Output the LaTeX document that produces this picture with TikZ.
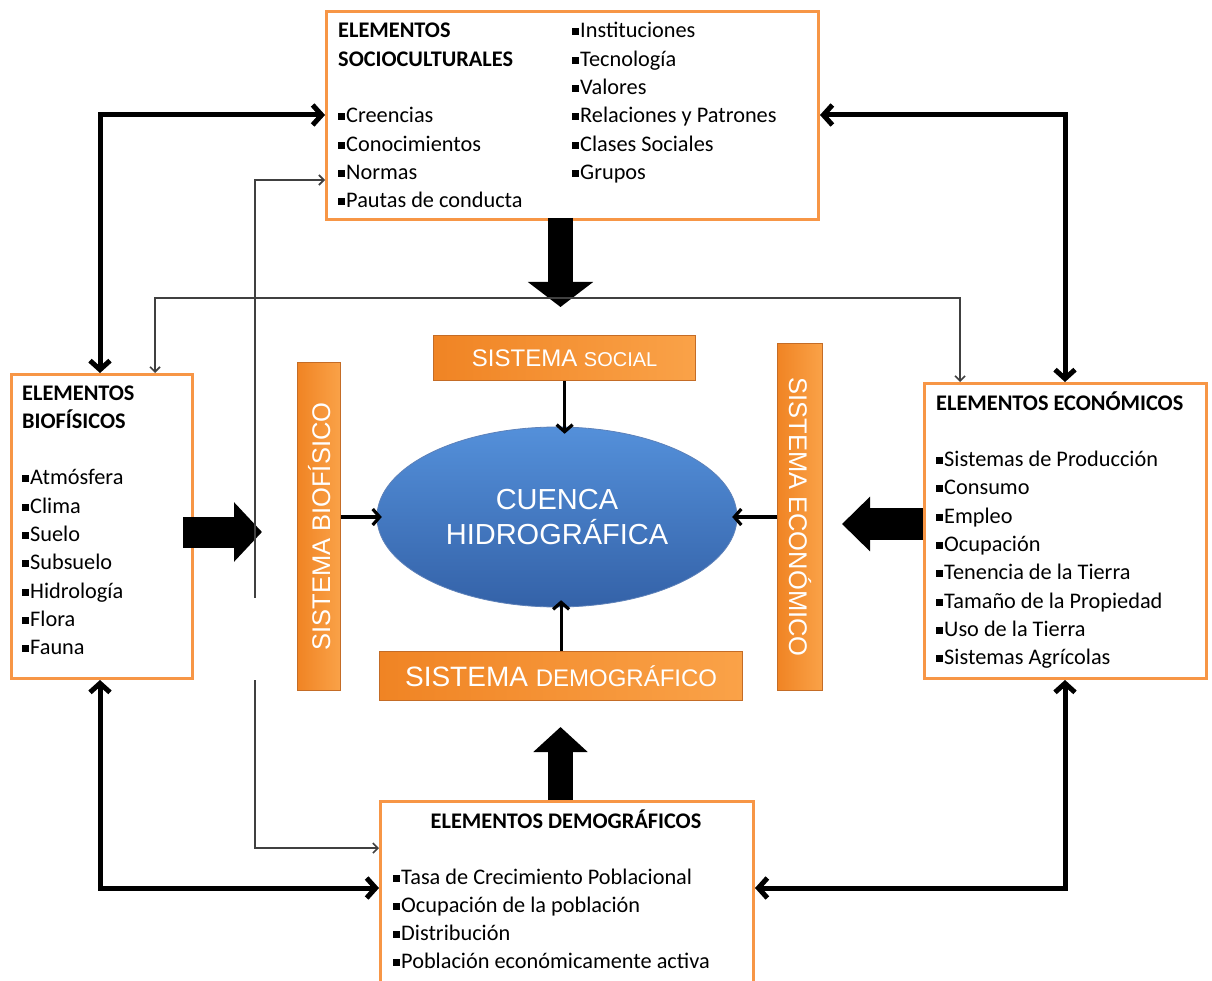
\documentclass[tikz,border=0pt]{standalone}
\usepackage{fontspec}
\setmainfont{Carlito}
\newfontfamily\arialf{Liberation Sans}
\usetikzlibrary{arrows.meta,calc,shapes.geometric}
\definecolor{boxorange}{RGB}{247,150,70}
\definecolor{barorangeA}{RGB}{240,132,36}
\definecolor{barorangeB}{RGB}{250,162,72}
\definecolor{bardark}{RGB}{196,108,38}
\definecolor{thingray}{RGB}{64,64,64}
\definecolor{elltop}{RGB}{84,144,218}
\definecolor{ellbot}{RGB}{52,98,168}
\newcommand{\bul}{\rule[2.5pt]{7pt}{7pt}\hspace{1pt}}
\begin{document}
\begin{tikzpicture}[x=1pt,y=-1pt,
  ebox/.style={draw=boxorange,line width=3pt,fill=white,inner sep=0pt,anchor=north west},
  item/.style={anchor=base west,inner sep=0pt,font=\fontsize{22.3}{24}\selectfont},
  head/.style={anchor=base west,inner sep=0pt,font=\bfseries\fontsize{22.3}{24}\selectfont},
  bar/.style={draw=bardark,line width=1.2pt,left color=barorangeA,right color=barorangeB,inner sep=0pt,text=white,anchor=north west},
  thickarr/.style={line width=5pt,{Straight Barb[length=9pt,width=20pt]}-{Straight Barb[length=9pt,width=20pt]}},
  thinarr/.style={draw=thingray,line width=1.6pt,{Straight Barb[length=5pt,width=10pt]}-{Straight Barb[length=5pt,width=10pt]}},
  thinone/.style={draw=thingray,line width=1.6pt},
  smallarr/.style={line width=3.2pt,-{Straight Barb[length=7pt,width=16pt]}}
]
\useasboundingbox (0,0) rectangle (1212,981);
\clip (0,0) rectangle (1212,981);
\fill[white] (0,0) rectangle (1212,981);

% element boxes
\node[ebox,minimum width=492pt,minimum height=208pt] (soc) at (325,10) {};
\node[ebox,minimum width=181pt,minimum height=304pt] (bio) at (10,373) {};
\node[ebox,minimum width=282pt,minimum height=295pt] (eco) at (923,382) {};
\node[ebox,minimum width=373pt,minimum height=184pt] (dem) at (379,800) {};

% texts: sociocultural
\node[head] (socH1) at (338,38) {ELEMENTOS};
\node[head] (socH2) at (338,66.3) {SOCIOCULTURALES};
\foreach \t [count=\i from 3] in {Creencias,Conocimientos,Normas,Pautas de conducta}
  \node[item] (socL\i) at (338,{38+\i*28.3}) {\bul\t};
\foreach \t [count=\i from 0] in {Instituciones,Tecnología,Valores,Relaciones y Patrones,Clases Sociales,Grupos}
  \node[item] (socR\i) at (572,{38+\i*28.3}) {\bul\t};

% biofisicos
\node[head] (bioH1) at (22,400) {ELEMENTOS};
\node[head] (bioH2) at (22,428.3) {BIOFÍSICOS};
\foreach \t [count=\i from 3] in {Atmósfera,Clima,Suelo,Subsuelo,Hidrología,Flora,Fauna}
  \node[item] (bioL\i) at (22,{400+\i*28.3}) {\bul\t};

% economicos
\node[head] (ecoH) at (936,410) {ELEMENTOS ECONÓMICOS};
\foreach \t [count=\i from 2] in {Sistemas de Producción,Consumo,Empleo,Ocupación,Tenencia de la Tierra,Tamaño de la Propiedad,Uso de la Tierra,Sistemas Agrícolas}
  \node[item] (ecoL\i) at (936,{410+\i*28.3}) {\bul\t};

% demograficos
\node[head,anchor=base] (demH) at (566,828) {ELEMENTOS DEMOGRÁFICOS};
\foreach \t [count=\i from 0] in {Tasa de Crecimiento Poblacional,Ocupación de la población,Distribución,Población económicamente activa}
  \node[item] (demL\i) at (393,{884+\i*28.3}) {\bul\t};

% central ellipse
\shade[top color=elltop,bottom color=ellbot,draw=ellbot!80!white,line width=0.8pt] (557,517) ellipse [x radius=180pt,y radius=90pt];
\node[inner sep=0pt,minimum width=360pt,minimum height=180pt,shape=ellipse] (ell) at (557,517) {};
\node[text=white,align=center,font=\arialf\fontsize{29}{35}\selectfont] (ellT) at (557,517) {CUENCA\\HIDROGRÁFICA};

% orange system bars
\node[bar,minimum width=262pt,minimum height=45pt] (ss) at (433,335) {};
\node[text=white,inner sep=0pt] (ssT) at (ss.center) {\arialf\fontsize{24}{24}\selectfont SISTEMA \fontsize{20}{20}\selectfont SOCIAL};
\node[bar,minimum width=363pt,minimum height=49pt] (sd) at (379,651) {};
\node[text=white,inner sep=0pt] (sdT) at (sd.center) {\arialf\fontsize{28}{28}\selectfont SISTEMA \fontsize{24}{24}\selectfont DEMOGRÁFICO};
\node[bar,minimum width=43pt,minimum height=328pt] (sb) at (297,362) {};
\node[text=white,inner sep=0pt,rotate=90] (sbT) at (sb.center) {\arialf\fontsize{25.5}{25.5}\selectfont SISTEMA BIOFÍSICO};
\node[bar,minimum width=45pt,minimum height=347pt] (se) at (777,343) {};
\node[text=white,inner sep=0pt,rotate=-90] (seT) at (se.center) {\arialf\fontsize{25.5}{25.5}\selectfont SISTEMA ECONÓMICO};

% small arrows into ellipse
\draw[smallarr] (ss.south) -- ($(ss.south |- ell.north)+(0,7)$);
\draw[smallarr] (sd.north) -- ($(sd.north |- ell.south)+(0,-7)$);
\draw[smallarr] (sb.east |- ell.west) -- ($(ell.west)+(5,0)$);
\draw[smallarr] (se.west |- ell.east) -- ($(ell.east)+(-5,0)$);

% block arrows
\coordinate (tA) at (560.5,307);
\coordinate (tB) at (560.5,727);
\coordinate (tC) at (262,532);
\coordinate (tD) at (842,524);
\draw[line width=25pt,-{Triangle[length=25pt,width=64pt]}] ($(soc.south -| tA)+(0,-3)$) -- (tA);
\draw[line width=25pt,-{Triangle[length=25pt,width=53pt]}] (dem.north -| tB) -- (tB);
\draw[line width=31pt,-{Triangle[length=28pt,width=58pt]}] ($(bio.east |- tC)+(-11,0)$) -- (tC);
\draw[line width=32pt,-{Triangle[length=28pt,width=53pt]}] (eco.west |- tD) -- (tD);

% thick double connectors
\coordinate (a1) at (100,115);
\coordinate (b1) at (1065,115);
\coordinate (c1) at (100,888);
\coordinate (d1) at (1065,888);
\draw[thickarr] (bio.north -| a1) -- (a1) -- (soc.west |- a1);
\draw[thickarr] (eco.north -| b1) -- (b1) -- (soc.east |- b1);
\draw[thickarr] (bio.south -| c1) -- (c1) -- (dem.west |- c1);
\draw[thickarr] (eco.south -| d1) -- (d1) -- (dem.east |- d1);

% thin connectors
\coordinate (e1) at (255,180);
\coordinate (eA) at (255,598);
\coordinate (eB) at (255,680);
\coordinate (e2) at (255,848);
\draw[thinone,{Straight Barb[length=5pt,width=10pt]}-] (soc.west |- e1) -- (e1) -- (eA);
\draw[thinone,-{Straight Barb[length=5pt,width=10pt]}] (eB) -- (e2) -- (dem.west |- e2);
\coordinate (f1) at (155,298);
\coordinate (f2) at (960,298);
\draw[thinarr] (bio.north -| f1) -- (f1) -- (f2) -- (eco.north -| f2);
\end{tikzpicture}
\end{document}
